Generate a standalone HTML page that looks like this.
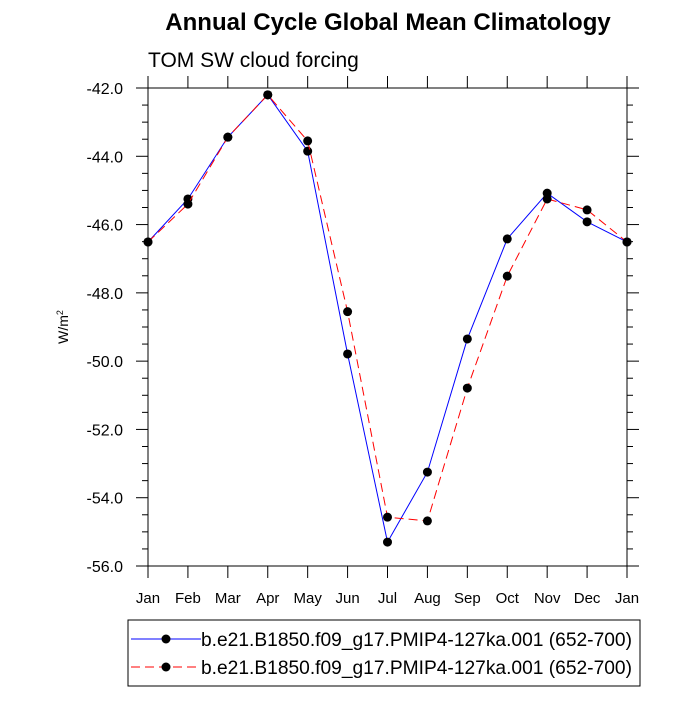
<!DOCTYPE html>
<html><head><meta charset="utf-8"><style>
body{margin:0;background:#fff;}
svg text{font-family:"Liberation Sans",sans-serif;}
</style></head><body>
<svg id="c" width="700" height="700" xmlns="http://www.w3.org/2000/svg">
<text x="388" y="30" text-anchor="middle" font-size="24" font-weight="bold">Annual Cycle Global Mean Climatology</text>
<text x="148" y="67" font-size="21">TOM SW cloud forcing</text>
<text transform="translate(68,327) rotate(-90)" text-anchor="middle" font-size="14">W/m<tspan dy="-5" font-size="9">2</tspan></text>
<g id="plot"></g>
<g id="legend"></g>
</svg>
<script>
const months=["Jan","Feb","Mar","Apr","May","Jun","Jul","Aug","Sep","Oct","Nov","Dec","Jan"];
const blueVals=[-46.51,-45.25,-43.44,-42.2,-43.85,-49.79,-55.3,-53.25,-49.35,-46.42,-45.08,-45.92,-46.51];
const redVals=[-46.51,-45.4,-43.44,-42.2,-43.55,-48.55,-54.57,-54.68,-50.79,-47.51,-45.25,-45.57,-46.51];
const yTicks=[-42,-44,-46,-48,-50,-52,-54,-56];
const seriesNames=["b.e21.B1850.f09_g17.PMIP4-127ka.001 (652-700)","b.e21.B1850.f09_g17.PMIP4-127ka.001 (652-700)"];
const NS="http://www.w3.org/2000/svg";
const L=148,R=627,T=88,B=566,yMax=-42,yMin=-56;
const xs=i=>L+(R-L)*i/(months.length-1);
const ys=v=>T+(yMax-v)/(yMax-yMin)*(B-T);
const g=document.getElementById('plot');
function mk(t,a,p){const e=document.createElementNS(NS,t);for(const k in a)e.setAttribute(k,a[k]);(p||g).appendChild(e);return e;}
const frame=mk('rect',{x:L,y:T,width:R-L,height:B-T,fill:'none',stroke:'#000','stroke-width':1});


months.forEach((m,i)=>{const x=xs(i);
mk('line',{x1:x,x2:x,y1:B,y2:B+12,stroke:'#000'});mk('line',{x1:x,x2:x,y1:T,y2:T-12,stroke:'#000'});
const t=mk('text',{x:x,y:B+37,'text-anchor':'middle','font-size':15});t.textContent=m;

});
for(let v=yMax;v>=yMin-0.001;v-=0.5){const y=ys(v);const maj=Math.abs(v-Math.round(v/2)*2)<0.01;const len=maj?12:6;
mk('line',{x1:L,x2:L-len,y1:y,y2:y,stroke:'#000'});mk('line',{x1:R,x2:R+len,y1:y,y2:y,stroke:'#000'});}
yTicks.forEach(v=>{const t=mk('text',{x:L-25,y:ys(v)+6,'text-anchor':'end','font-size':16});t.textContent=v.toFixed(1);

});
function series(vals,color,dash,name){
const pl=mk('polyline',{points:vals.map((v,i)=>xs(i)+','+ys(v)).join(' '),fill:'none',stroke:color,'stroke-width':1,'stroke-dasharray':dash});


vals.forEach((v,i)=>{const c=mk('circle',{cx:xs(i),cy:ys(v),r:4.5,fill:'#000'});

});}
series(blueVals,'#00f','none','blue-series');
series(redVals,'#f00','9,5','red-series');
const lg=document.getElementById('legend');
mk('rect',{x:128,y:620,width:512,height:66,fill:'#fff',stroke:'#000'},lg);
[[639,'#00f','none'],[667,'#f00','9,5']].forEach((r,i)=>{
mk('line',{x1:131,x2:201,y1:r[0],y2:r[0],stroke:r[1],'stroke-dasharray':r[2]},lg);
mk('circle',{cx:166,cy:r[0],r:4.5,fill:'#000'},lg);
const t=mk('text',{x:201,y:r[0]+7,'font-size':19.2},lg);t.textContent=seriesNames[i];

});
</script>
</body></html>
